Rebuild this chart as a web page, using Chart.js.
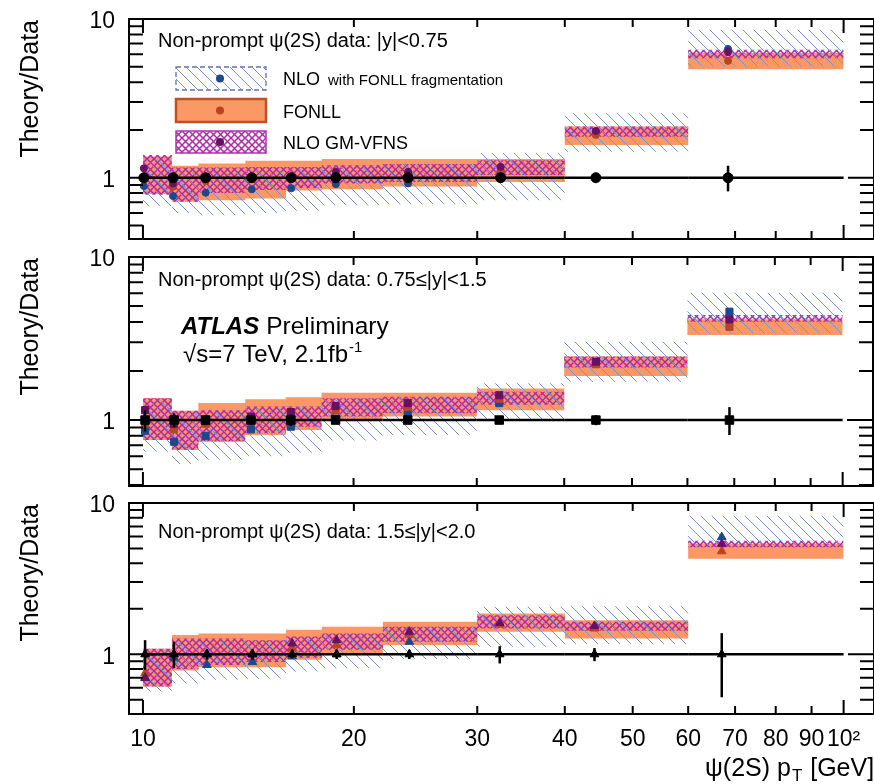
<!DOCTYPE html>
<html>
<head>
<meta charset="utf-8">
<script src="https://cdn.jsdelivr.net/npm/chart.js@4.4.1/dist/chart.umd.min.js"></script>
<style>
  html, body { margin: 0; padding: 0; background: #fff; overflow: hidden; }
  #wrap { position: relative; width: 874px; height: 784px; overflow: hidden; }
  canvas { position: absolute; left: 0; }
</style>
</head>
<body>
<div id="wrap">
  <canvas id="c1" width="880" height="276" style="top:-9px"></canvas>
  <canvas id="c2" width="880" height="285" style="top:229px"></canvas>
  <canvas id="c3" width="880" height="309" style="top:475px"></canvas>
</div>
<script>
// bins in pT [GeV]
const binEdges = [10, 11, 12, 14, 16, 18, 22, 30, 40, 60, 100];
const xTickValues = [10, 20, 30, 40, 50, 60, 70, 80, 90, 100];
const xTickLabels = ['10', '20', '30', '40', '50', '60', '70', '80', '90', '10²'];
const yTickValues = [0.4, 0.5, 0.6, 0.7, 0.8, 0.9, 1, 2, 3, 4, 5, 6, 7, 8, 9, 10];
const yTickLabels = { 1: '1', 10: '10' };
const panelTitles = [
  'Non-prompt ψ(2S) data: |y|<0.75',
  'Non-prompt ψ(2S) data: 0.75≤|y|<1.5',
  'Non-prompt ψ(2S) data: 1.5≤|y|<2.0'
];
const legendNames = ['NLO', 'FONLL', 'NLO GM-VFNS'];
const dataRatio = [1, 1, 1, 1, 1, 1, 1, 1, 1, 1];

// |y| < 0.75
const ptMeanA = [10.03, 11.04, 12.29, 14.30, 16.28, 18.85, 23.9, 32.4, 44.3, 68.4];
const dataErrUpA = [0.05, 0.05, 0.04, 0.04, 0.04, 0.04, 0.04, 0.05, 0.06, 0.19];
const dataErrDnA = [0.05, 0.05, 0.04, 0.04, 0.04, 0.04, 0.04, 0.05, 0.06, 0.18];
const nloA = [0.886, 0.766, 0.804, 0.845, 0.857, 0.91, 0.92, 1.1, 1.95, 6.48];
const nloLowA = [0.66, 0.60, 0.58, 0.60, 0.62, 0.67, 0.68, 0.72, 1.46, 5.02];
const nloHighA = [1.30, 1.08, 1.10, 1.12, 1.14, 1.18, 1.22, 1.43, 2.55, 8.55];
const fonllA = [1.0, 0.877, 0.95, 0.98, 1.0, 1.05, 1.07, 1.12, 1.86, 5.45];
const fonllLowA = [0.79, 0.705, 0.72, 0.74, 0.83, 0.845, 0.88, 0.94, 1.61, 4.83];
const fonllHighA = [1.36, 1.19, 1.23, 1.28, 1.28, 1.31, 1.31, 1.31, 2.10, 6.1];
const gmA = [1.146, 0.92, 0.98, 1.02, 1.0, 1.09, 1.09, 1.17, 1.97, 6.19];
const gmLowA = [0.78, 0.705, 0.80, 0.836, 0.86, 0.92, 0.94, 1.04, 1.81, 5.66];
const gmHighA = [1.39, 1.16, 1.16, 1.17, 1.17, 1.20, 1.22, 1.29, 2.10, 6.39];

// 0.75 <= |y| < 1.5
const ptMeanB = [10.07, 11.08, 12.29, 14.27, 16.27, 18.85, 23.9, 32.3, 44.4, 68.9];
const dataErrUpB = [0.15, 0.10, 0.07, 0.07, 0.08, 0.05, 0.05, 0.05, 0.07, 0.20];
const dataErrDnB = [0.15, 0.10, 0.07, 0.07, 0.08, 0.05, 0.05, 0.05, 0.07, 0.19];
const nloB = [0.86, 0.736, 0.80, 0.877, 0.91, 1.02, 1.12, 1.27, 2.25, 4.62];
const nloLowB = [0.64, 0.537, 0.57, 0.60, 0.63, 0.75, 0.81, 1.0, 1.72, 3.40];
const nloHighB = [1.30, 1.10, 1.12, 1.18, 1.22, 1.35, 1.40, 1.68, 3.02, 6.04];
const fonllB = [0.95, 0.88, 0.95, 1.0, 1.05, 1.15, 1.2, 1.35, 2.2, 3.73];
const fonllLowB = [0.754, 0.655, 0.736, 0.81, 0.868, 1.0, 1.05, 1.15, 1.86, 3.32];
const fonllHighB = [1.36, 1.14, 1.27, 1.34, 1.38, 1.47, 1.47, 1.56, 2.45, 4.15];
const gmB = [1.15, 0.95, 1.0, 1.05, 1.12, 1.22, 1.27, 1.42, 2.28, 4.14];
const gmLowB = [0.754, 0.655, 0.74, 0.83, 0.91, 1.05, 1.10, 1.24, 2.10, 4.01];
const gmHighB = [1.36, 1.14, 1.15, 1.21, 1.21, 1.36, 1.39, 1.49, 2.45, 4.41];

// 1.5 <= |y| < 2.0
const ptMeanC = [10.07, 11.07, 12.34, 14.33, 16.33, 18.9, 24.0, 32.3, 44.1, 67.0];
const dataErrUpC = [0.24, 0.21, 0.08, 0.08, 0.06, 0.07, 0.07, 0.13, 0.10, 0.38];
const dataErrDnC = [0.21, 0.19, 0.08, 0.08, 0.06, 0.07, 0.07, 0.13, 0.10, 0.48];
const nloC = [0.695, 0.95, 0.85, 0.89, 0.97, 1.0, 1.21, 1.58, 1.52, 5.95];
const nloLowC = [0.567, 0.64, 0.68, 0.69, 0.77, 0.81, 0.93, 1.12, 1.17, 5.24];
const nloHighC = [1.05, 1.20, 1.22, 1.22, 1.28, 1.33, 1.50, 2.06, 2.08, 8.23];
const fonllC = [0.75, 1.0, 1.0, 1.0, 1.1, 1.15, 1.35, 1.58, 1.48, 4.80];
const fonllLowC = [0.612, 0.78, 0.82, 0.82, 0.92, 1.0, 1.15, 1.41, 1.27, 4.28];
const fonllHighC = [1.09, 1.34, 1.37, 1.37, 1.45, 1.52, 1.64, 1.86, 1.68, 5.37];
const gmC = [0.70, 1.0, 1.0, 1.0, 1.18, 1.24, 1.41, 1.61, 1.54, 5.37];
const gmLowC = [0.612, 0.80, 0.85, 0.89, 0.95, 1.07, 1.21, 1.48, 1.43, 5.10];
const gmHighC = [1.09, 1.27, 1.27, 1.24, 1.31, 1.37, 1.52, 1.81, 1.64, 5.64];

const FONT = '"Liberation Sans", Arial, Helvetica, sans-serif';
const ORANGE = 'rgb(251,152,102)';
const NLO_COL = 'rgb(28,72,140)';
const FONLL_COL = 'rgb(185,68,30)';
const GM_COL = 'rgb(102,16,102)';

function makeHatch() {
  const s = 11;
  const c = document.createElement('canvas');
  c.width = s; c.height = s;
  const g = c.getContext('2d');
  g.strokeStyle = 'rgb(122,146,206)';
  g.lineWidth = 1;
  for (const k of [-1, 0, 1]) {
    g.beginPath(); g.moveTo(0, k * s); g.lineTo(s, s + k * s); g.stroke();
  }
  return g.createPattern(c, 'repeat');
}

function makeCross() {
  const s = 7;
  const c = document.createElement('canvas');
  c.width = s; c.height = s;
  const g = c.getContext('2d');
  g.strokeStyle = 'rgb(178,40,170)';
  g.lineWidth = 1.5;
  for (const k of [-1, 0, 1]) {
    g.beginPath(); g.moveTo(0, k * s); g.lineTo(s, s + k * s); g.stroke();
    g.beginPath(); g.moveTo(0, s + k * s); g.lineTo(s, k * s); g.stroke();
  }
  return g.createPattern(c, 'repeat');
}

const HATCH = makeHatch();
const CROSS = makeCross();

// step curve over the bins: value i holds from edge i to edge i+1
function steps(vals) {
  const pts = vals.map((v, i) => ({ x: binEdges[i], y: v }));
  pts.push({ x: binEdges[binEdges.length - 1], y: vals[vals.length - 1] });
  return pts;
}

function band(lo, hi, fillStyle, order) {
  const common = { type: 'line', stepped: 'before', borderColor: 'rgba(0,0,0,0)', borderWidth: 0, pointRadius: 0, order: order };
  return [
    Object.assign({ data: steps(lo), fill: false }, common),
    Object.assign({ data: steps(hi), fill: '-1', backgroundColor: fillStyle }, common)
  ];
}

function markers(xs, ys, style, radius, color, order) {
  return {
    type: 'line', showLine: false, fill: false, order: order,
    data: xs.map((x, i) => ({ x: x, y: ys[i] })),
    pointStyle: style, pointRadius: radius, pointBorderWidth: 1,
    backgroundColor: color, borderColor: color
  };
}

function text(ctx, s, x, y, font, align) {
  ctx.font = font;
  ctx.fillStyle = '#000';
  ctx.textAlign = align || 'left';
  ctx.textBaseline = 'alphabetic';
  ctx.fillText(s, x, y);
  return ctx.measureText(s).width;
}

function drawLegend(ctx, a) {
  const x0 = a.left + 47, w = 90;
  const rows = [
    { top: a.top + 48, h: 23 },
    { top: a.top + 80, h: 23 },
    { top: a.top + 112, h: 22 }
  ];
  ctx.save();
  // NLO with FONLL fragmentation
  let r = rows[0];
  ctx.fillStyle = HATCH;
  ctx.fillRect(x0, r.top, w, r.h);
  ctx.setLineDash([5, 3]);
  ctx.strokeStyle = 'rgb(95,115,175)';
  ctx.lineWidth = 1.3;
  ctx.strokeRect(x0, r.top, w, r.h);
  ctx.setLineDash([]);
  // FONLL
  r = rows[1];
  ctx.fillStyle = ORANGE;
  ctx.fillRect(x0, r.top, w, r.h);
  ctx.strokeStyle = 'rgb(190,80,35)';
  ctx.lineWidth = 2.5;
  ctx.strokeRect(x0, r.top, w, r.h);
  // GM-VFNS
  r = rows[2];
  ctx.fillStyle = CROSS;
  ctx.fillRect(x0, r.top, w, r.h);
  ctx.strokeStyle = 'rgb(175,50,175)';
  ctx.lineWidth = 1.5;
  ctx.strokeRect(x0, r.top, w, r.h);
  const cols = [NLO_COL, FONLL_COL, GM_COL];
  rows.forEach((row, i) => {
    ctx.beginPath();
    ctx.arc(x0 + w / 2 - 1, row.top + row.h / 2, 4, 0, Math.PI * 2);
    ctx.fillStyle = cols[i];
    ctx.fill();
  });
  const tx = a.left + 154;
  const w0 = text(ctx, legendNames[0], tx, a.top + 66, '18px ' + FONT);
  text(ctx, 'with FONLL fragmentation', tx + w0 + 8, a.top + 66, '15px ' + FONT);
  text(ctx, legendNames[1], tx, a.top + 99, '18px ' + FONT);
  text(ctx, legendNames[2], tx, a.top + 130, '18px ' + FONT);
  ctx.restore();
}

function drawAtlas(ctx, a) {
  const x = a.left + 52, y = a.top + 77;
  const wA = text(ctx, 'ATLAS', x, y, 'italic bold 24px ' + FONT);
  text(ctx, 'Preliminary', x + wA + 7, y, '24.5px ' + FONT);
  const w2 = text(ctx, '√s=7 TeV, 2.1fb', x + 2, a.top + 105, '24px ' + FONT);
  text(ctx, '-1', x + 2 + w2 + 1, a.top + 95, '15px ' + FONT);
}

function drawXTitle(ctx, a) {
  const y = a.bottom + 62;
  let x = 705;
  x += text(ctx, 'ψ(2S) p', x, y, '25px ' + FONT);
  x += text(ctx, 'T', x + 1, y + 5, '17px ' + FONT) + 2;
  text(ctx, ' [GeV]', x, y, '25px ' + FONT);
}

function makePanel(id, p) {
  const frame = {
    id: 'rootFrame',
    beforeDatasetDraw(chart, args) {
      if (args.index !== chart.data.datasets.length - 1) return;
      // data: horizontal bin widths and vertical errors
      const xs = chart.scales.x, ys = chart.scales.y, ctx = chart.ctx;
      ctx.save();
      ctx.strokeStyle = '#000';
      ctx.lineWidth = 2.5;
      p.data.forEach((v, i) => {
        const y = ys.getPixelForValue(v);
        ctx.beginPath();
        ctx.moveTo(xs.getPixelForValue(binEdges[i]), y);
        ctx.lineTo(xs.getPixelForValue(binEdges[i + 1]), y);
        ctx.stroke();
        const x = xs.getPixelForValue(p.pt[i]);
        ctx.beginPath();
        ctx.moveTo(x, ys.getPixelForValue(v + p.errUp[i]));
        ctx.lineTo(x, ys.getPixelForValue(v - p.errDn[i]));
        ctx.stroke();
      });
      ctx.restore();
    },
    afterDraw(chart) {
      const a = chart.chartArea, ctx = chart.ctx;
      const xs = chart.scales.x, ys = chart.scales.y;
      ctx.save();
      ctx.strokeStyle = '#000';
      ctx.lineWidth = 2;
      ctx.strokeRect(a.left, a.top, a.right - a.left, a.bottom - a.top);
      ctx.beginPath();
      yTickValues.forEach(v => {
        if (v < ys.min || v > ys.max) return;
        const y = ys.getPixelForValue(v);
        const len = (v === 1 || v === 10) ? 26 : 14;
        ctx.moveTo(a.left, y); ctx.lineTo(a.left + len, y);
        ctx.moveTo(a.right, y); ctx.lineTo(a.right - len, y);
      });
      xTickValues.forEach(v => {
        const x = xs.getPixelForValue(v);
        const len = (v === 10 || v === 100) ? 14 : 8;
        ctx.moveTo(x, a.bottom); ctx.lineTo(x, a.bottom - len);
        ctx.moveTo(x, a.top); ctx.lineTo(x, a.top + len);
      });
      ctx.stroke();

      // y title, aligned to the top of the frame
      ctx.save();
      ctx.translate(38, a.top + 1);
      ctx.rotate(-Math.PI / 2);
      text(ctx, 'Theory/Data', 0, 0, '25px ' + FONT, 'right');
      ctx.restore();

      text(ctx, p.title, a.left + 29, a.top + p.titleDy, '20px ' + FONT);
      if (p.extra) p.extra(ctx, a);
      ctx.restore();
    }
  };

  return new Chart(document.getElementById(id), {
    type: 'line',
    data: {
      datasets: [
        ...band(p.fonllLo, p.fonllHi, ORANGE, 30),
        ...band(p.gmLo, p.gmHi, CROSS, 20),
        ...band(p.nloLo, p.nloHi, HATCH, 10),
        markers(p.pt, p.nlo, p.style, p.mr, NLO_COL, 4),
        markers(p.pt, p.fonll, p.style, p.mr, FONLL_COL, 3),
        markers(p.pt, p.gm, p.style, p.mr, GM_COL, 2),
        markers(p.pt, p.data, p.style, p.dr, '#000', 0)
      ]
    },
    options: {
      responsive: false,
      animation: false,
      events: [],
      layout: { padding: { left: 0, right: 3, top: 28, bottom: p.showX ? 0 : 28 } },
      plugins: { legend: { display: false }, tooltip: { enabled: false } },
      scales: {
        x: {
          type: 'logarithmic', min: 9.552, max: 110.5, display: p.showX,
          grid: { display: false, drawTicks: false }, border: { display: false },
          afterBuildTicks: s => { s.ticks = xTickValues.map(v => ({ value: v })); },
          afterFit: s => { s.height = p.showX ? 70 : 0; },
          ticks: {
            autoSkip: false, maxRotation: 0, minRotation: 0, padding: 12, color: '#000',
            font: { size: 23, family: FONT },
            callback: (v, i) => xTickLabels[i]
          }
        },
        y: {
          type: 'logarithmic', min: p.yMin, max: 10,
          grid: { display: false, drawTicks: false }, border: { display: false },
          afterBuildTicks: s => { s.ticks = yTickValues.filter(v => v >= s.min).map(v => ({ value: v })); },
          afterFit: s => { s.width = 129; },
          ticks: {
            autoSkip: false, padding: 14, labelOffset: 3, color: '#000',
            font: { size: 23, family: FONT },
            callback: v => yTickLabels[v] || ''
          }
        }
      }
    },
    plugins: [frame]
  });
}

makePanel('c1', {
  pt: ptMeanA, data: dataRatio, errUp: dataErrUpA, errDn: dataErrDnA,
  nlo: nloA, nloLo: nloLowA, nloHi: nloHighA,
  fonll: fonllA, fonllLo: fonllLowA, fonllHi: fonllHighA,
  gm: gmA, gmLo: gmLowA, gmHi: gmHighA,
  style: 'circle', mr: 3.5, dr: 5,
  yMin: 0.411, showX: false,
  title: panelTitles[0], titleDy: 28, extra: drawLegend
});

makePanel('c2', {
  pt: ptMeanB, data: dataRatio, errUp: dataErrUpB, errDn: dataErrDnB,
  nlo: nloB, nloLo: nloLowB, nloHi: nloHighB,
  fonll: fonllB, fonllLo: fonllLowB, fonllHi: fonllHighB,
  gm: gmB, gmLo: gmLowB, gmHi: gmHighB,
  style: 'rect', mr: 5, dr: 6,
  yMin: 0.394, showX: false,
  title: panelTitles[1], titleDy: 29, extra: drawAtlas
});

makePanel('c3', {
  pt: ptMeanC, data: dataRatio, errUp: dataErrUpC, errDn: dataErrDnC,
  nlo: nloC, nloLo: nloLowC, nloHi: nloHighC,
  fonll: fonllC, fonllLo: fonllLowC, fonllHi: fonllHighC,
  gm: gmC, gmLo: gmLowC, gmHi: gmHighC,
  style: 'triangle', mr: 5, dr: 5,
  yMin: 0.403, showX: true,
  title: panelTitles[2], titleDy: 34.7, extra: drawXTitle
});
</script>
</body>
</html>
